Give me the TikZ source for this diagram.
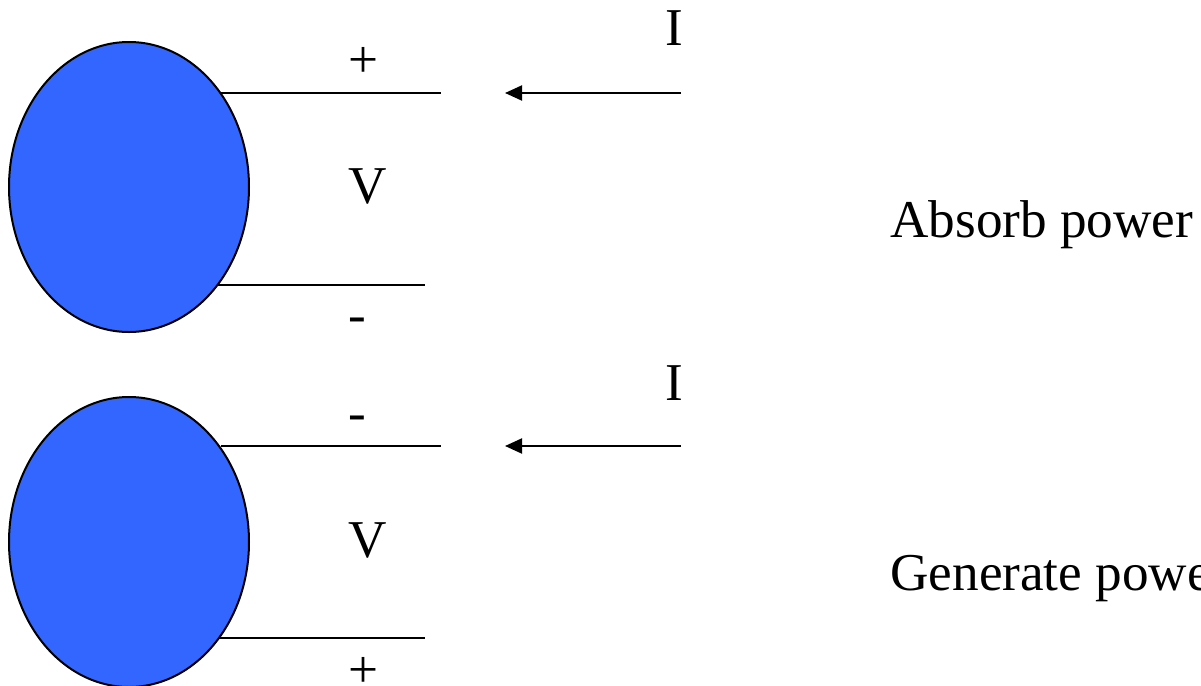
\documentclass[tikz,border=0pt]{standalone}
\usepackage{fontspec}
\setmainfont{Liberation Serif}
\usetikzlibrary{shapes.geometric,arrows.meta}
\definecolor{srcblue}{HTML}{3366FF}

\begin{document}
\begin{tikzpicture}[x=0.5pt, y=-0.5pt,
  every node/.style={inner sep=0pt, font=\fontsize{26.6}{30}\selectfont},
  src/.style={ellipse, draw, line width=1pt, fill=srcblue, minimum width=120pt, minimum height=145pt},
  wire/.style={line width=1pt},
  cur/.style={line width=1pt, -{Triangle[length=8.5pt,width=7.5pt]}}]
  \useasboundingbox (0,0) rectangle (1201,686);
  \clip (0,0) rectangle (1201,686);

  % absorbing element
  \node[src] (srcA) at (129,187) {};
  \coordinate (aTop) at (441,93);
  \coordinate (aBot) at (425,285);
  \draw[wire] (srcA.46 |- aTop) -- (aTop);
  \draw[wire] (srcA.-48 |- aBot) -- (aBot);
  \node[anchor=base] (aPlus) at (363,77) {+};
  \node[anchor=base] (aV) at (368,203) {V};
  \node[anchor=base] (aMinus) at (357,332) {-};
  \coordinate (aIs) at (681,93);
  \coordinate (aIe) at (505,93);
  \draw[cur] (aIs) -- (aIe);
  \node[anchor=base] (aI) at (674.5,45) {I};
  \node[anchor=base west] (aText) at (890,237) {Absorb power};

  % generating element
  \node[src] (srcG) at (129,542) {};
  \coordinate (gTop) at (441,446);
  \coordinate (gBot) at (425,638);
  \draw[wire] (srcG.46 |- gTop) -- (gTop);
  \draw[wire] (srcG.-48 |- gBot) -- (gBot);
  \node[anchor=base] (gMinus) at (357,430) {-};
  \node[anchor=base] (gV) at (368,557) {V};
  \node[anchor=base] (gPlus) at (363,687) {+};
  \coordinate (gIs) at (681,446);
  \coordinate (gIe) at (505,446);
  \draw[cur] (gIs) -- (gIe);
  \node[anchor=base] (gI) at (674.5,400) {I};
  \node[anchor=base west] (gText) at (890,590) {Generate power};
\end{tikzpicture}
\end{document}
